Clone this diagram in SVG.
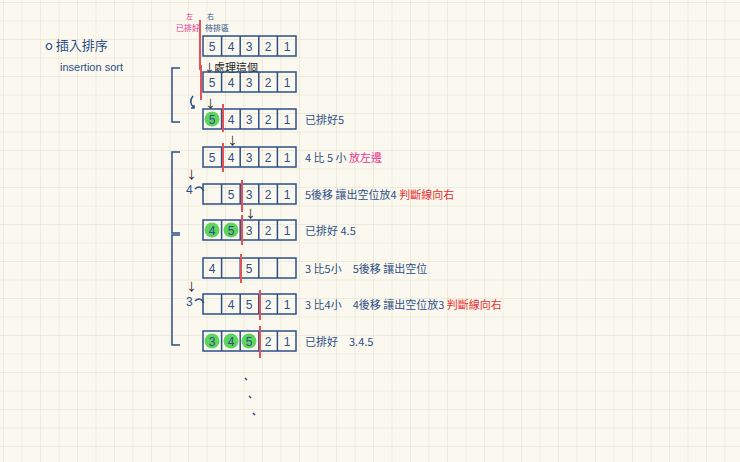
<svg xmlns="http://www.w3.org/2000/svg" width="740" height="462" viewBox="0 0 740 462">
<defs>
<pattern id="g" width="18.5" height="18.5" patternUnits="userSpaceOnUse" x="4" y="3">
<path d="M18.5 0V18.5M0 18.5H18.5" fill="none" stroke="#e2ddca" stroke-width="1"/>
</pattern>
<g id="row"><rect x="0" y="0" width="93" height="20" fill="none" stroke="#2d4f86" stroke-width="1.5"/>
<path d="M18.6 0v20M37.2 0v20M55.8 0v20M74.4 0v20" stroke="#2d4f86" stroke-width="1.5"/></g>
</defs>
<style>
text{font-family:"Noto Sans CJK TC","Noto Sans CJK SC",sans-serif;font-size:11px;fill:#2d4f86}
.n{text-anchor:middle;font-family:"Liberation Sans",sans-serif;font-size:12px}
.r{fill:#e52e2e}.p{fill:#e8338f}.b{fill:#222}
.rl{stroke:#e2525a;stroke-width:2}
.gc{fill:#5ed45e}
.br{fill:none;stroke:#2d4f86;stroke-width:1.5}
</style>
<rect width="740" height="462" fill="#fbf9ef"/>
<rect width="740" height="462" fill="url(#g)"/>
<text x="45" y="50" style="font-size:13px">o 插入排序</text>
<text x="60" y="71" style="font-family:'Liberation Sans',sans-serif;font-size:11px">insertion sort</text>
<text x="186" y="19" class="p" style="font-size:7px">左</text>
<text x="176" y="31" class="p" style="font-size:8px">已排好</text>
<text x="207" y="19" style="font-size:7px">右</text>
<text x="205" y="31" style="font-size:8px">待排區</text>
<g id="connectors">
<path class="br" d="M180 68h-8v54h8M180 152h-8v81h8M180 235h-8v110h8"/>
<path class="br" d="M193 96q-5 6 1 12M191 108l3 0l0 -3"/>
<text x="204" y="72" class="b">↓</text><text x="214" y="72" class="b">處理這個</text>
<text x="205" y="108" class="b">↓</text>
<text x="227" y="145" class="b">↓</text>
<text x="186" y="179" class="b">↓</text>
<text x="186" y="194" class="n" style="font-size:12px;text-anchor:start">4</text>
<path class="br" d="M195 189q5 -5 9 2"/>
<text x="186" y="291" class="b">↓</text>
<text x="245" y="218" class="b">↓</text>
<text x="186" y="306" class="n" style="font-size:12px;text-anchor:start">3</text>
<path class="br" d="M195 301q5 -5 9 2"/>
<path class="br" d="M245 378l2 2M249 396l2 2M253 413l2 2"/>
</g>
<g id="r1"><use href="#row" x="203" y="36"/><text class="n" x="212" y="51">5</text><text class="n" x="231" y="51">4</text><text class="n" x="249" y="51">3</text><text class="n" x="268" y="51">2</text><text class="n" x="287" y="51">1</text><line class="rl" x1="200" y1="20" x2="200" y2="70"/></g>
<g id="r2"><use href="#row" x="203" y="72"/><text class="n" x="212" y="87">5</text><text class="n" x="231" y="87">4</text><text class="n" x="249" y="87">3</text><text class="n" x="268" y="87">2</text><text class="n" x="287" y="87">1</text><line class="rl" x1="201" y1="65" x2="201" y2="100"/></g>
<g id="r3"><use href="#row" x="203" y="109"/><circle class="gc" cx="212" cy="119" r="7.5"/><text class="n" x="212" y="124">5</text><text class="n" x="231" y="124">4</text><text class="n" x="249" y="124">3</text><text class="n" x="268" y="124">2</text><text class="n" x="287" y="124">1</text><line class="rl" x1="223" y1="104" x2="223" y2="132"/><text x="305" y="124">已排好5</text></g>
<g id="r4"><use href="#row" x="203" y="147"/><text class="n" x="212" y="162">5</text><text class="n" x="231" y="162">4</text><text class="n" x="249" y="162">3</text><text class="n" x="268" y="162">2</text><text class="n" x="287" y="162">1</text><line class="rl" x1="223" y1="143" x2="223" y2="172"/><text x="305" y="162">4 比 5 小 <tspan class="p">放左邊</tspan></text></g>
<g id="r5"><use href="#row" x="203" y="184"/><text class="n" x="231" y="199">5</text><text class="n" x="249" y="199">3</text><text class="n" x="268" y="199">2</text><text class="n" x="287" y="199">1</text><line class="rl" x1="242" y1="180" x2="242" y2="212"/><text x="305" y="199">5後移 讓出空位放4 <tspan class="r">判斷線向右</tspan></text></g>
<g id="r6"><use href="#row" x="203" y="220"/><circle class="gc" cx="212" cy="230" r="7.5"/><circle class="gc" cx="231" cy="230" r="7.5"/><text class="n" x="212" y="235">4</text><text class="n" x="231" y="235">5</text><text class="n" x="249" y="235">3</text><text class="n" x="268" y="235">2</text><text class="n" x="287" y="235">1</text><line class="rl" x1="242" y1="215" x2="242" y2="245"/><text x="305" y="235">已排好 4.5</text></g>
<g id="r7"><use href="#row" x="203" y="258"/><text class="n" x="212" y="273">4</text><text class="n" x="249" y="273">5</text><line class="rl" x1="241" y1="254" x2="241" y2="283"/><text x="305" y="273">3 比5小　5後移 讓出空位</text></g>
<g id="r8"><use href="#row" x="203" y="294"/><text class="n" x="231" y="309">4</text><text class="n" x="249" y="309">5</text><text class="n" x="268" y="309">2</text><text class="n" x="287" y="309">1</text><line class="rl" x1="260" y1="290" x2="260" y2="320"/><text x="305" y="309">3 比4小　4後移 讓出空位放3 <tspan class="r">判斷線向右</tspan></text></g>
<g id="r9"><use href="#row" x="203" y="331"/><circle class="gc" cx="212" cy="341" r="7.5"/><circle class="gc" cx="231" cy="341" r="7.5"/><circle class="gc" cx="249" cy="341" r="7.5"/><text class="n" x="212" y="346">3</text><text class="n" x="231" y="346">4</text><text class="n" x="249" y="346">5</text><text class="n" x="268" y="346">2</text><text class="n" x="287" y="346">1</text><line class="rl" x1="260" y1="326" x2="260" y2="358"/><text x="305" y="346">已排好　3.4.5</text></g>
</svg>
